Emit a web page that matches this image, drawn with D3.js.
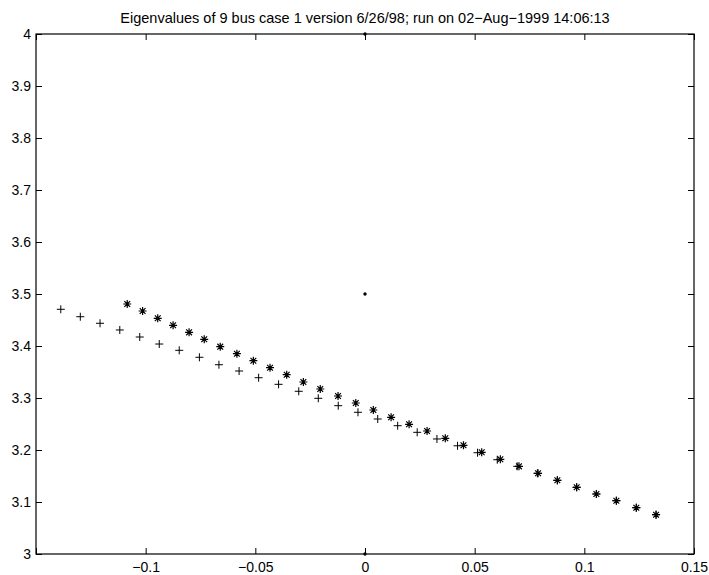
<!DOCTYPE html>
<html>
<head>
<meta charset="utf-8">
<script src="https://cdn.jsdelivr.net/npm/d3@7"></script>
<style>
  body { margin: 0; background: #fff; }
  text { font-family: "Liberation Sans", Arial, Helvetica, sans-serif; }
</style>
</head>
<body>
<div id="container"></div>
<script>
/* CONSTANTS AND GLOBALS */
const width = 709,
  height = 575,
  margin = { top: 34, bottom: 21, left: 36, right: 15 };

const titleText = "Eigenvalues of 9 bus case 1 version 6/26/98; run on 02\u2212Aug\u22121999 14:06:13";

// "+" series (eigenvalue real part, imag part)
const plusX = [-0.1387, -0.1298, -0.1208, -0.1118, -0.1027, -0.0938, -0.0847, -0.0755, -0.0666, -0.0574,
  -0.0485, -0.0394, -0.0302, -0.0213, -0.0122, -0.0032, 0.0058, 0.0149, 0.0238, 0.0328,
  0.0422, 0.0513, 0.0603, 0.0694, 0.0786, 0.0877, 0.0965, 0.1055, 0.1146, 0.1237, 0.1327];
const plusY = [3.4706, 3.4563, 3.4437, 3.4308, 3.4173, 3.4038, 3.3917, 3.3783, 3.3640, 3.3519,
  3.3390, 3.3263, 3.3129, 3.2994, 3.2852, 3.2725, 3.2596, 3.2467, 3.2340, 3.2212,
  3.2081, 3.1948, 3.1813, 3.1686, 3.1552, 3.1417, 3.1283, 3.1154, 3.1025, 3.0890, 3.0756];

// "*" series
const starX = [-0.1084, -0.1014, -0.0945, -0.0875, -0.0802, -0.0733, -0.0660, -0.0584, -0.0509, -0.0433,
  -0.0357, -0.0281, -0.0204, -0.0123, -0.0042, 0.0038, 0.0119, 0.0201, 0.0283, 0.0366,
  0.0449, 0.0532, 0.0617, 0.0702, 0.0789, 0.0877, 0.0965, 0.1055, 0.1146, 0.1237, 0.1327];
const starY = [3.4808, 3.4673, 3.4533, 3.4398, 3.4263, 3.4129, 3.3987, 3.3852, 3.3717, 3.3583,
  3.3448, 3.3308, 3.3173, 3.3038, 3.2904, 3.2769, 3.2629, 3.2494, 3.2365, 3.2225,
  3.2090, 3.1956, 3.1821, 3.1686, 3.1552, 3.1417, 3.1283, 3.1154, 3.1025, 3.0890, 3.0756];

// "." points
const dotX = [0, 0, 0];
const dotY = [4, 3.5, 3];

const xTicks = [-0.15, -0.1, -0.05, 0, 0.05, 0.1, 0.15];
const xTickLabels = ["", "\u22120.1", "\u22120.05", "0", "0.05", "0.1", "0.15"];
const yTicks = [3, 3.1, 3.2, 3.3, 3.4, 3.5, 3.6, 3.7, 3.8, 3.9, 4];
const yTickLabels = ["3", "3.1", "3.2", "3.3", "3.4", "3.5", "3.6", "3.7", "3.8", "3.9", "4"];

const plusData = plusX.map((x, i) => ({ x, y: plusY[i] }));
const starData = starX.map((x, i) => ({ x, y: starY[i] }));
const dotData = dotX.map((x, i) => ({ x, y: dotY[i] }));

const svg = d3.select("#container").append("svg")
  .attr("width", width)
  .attr("height", height);

// SCALES
const xScale = d3.scaleLinear()
  .domain([-0.15, 0.15])
  .range([margin.left, width - margin.right]);

const yScale = d3.scaleLinear()
  .domain([3, 4])
  .range([height - margin.bottom, margin.top]);

const tickLen = 6;
const fontSize = 14;

// AXES (ticks pointing inward, on all four sides)
const xAxisBottom = d3.axisBottom(xScale)
  .tickValues(xTicks)
  .tickSize(-tickLen)
  .tickPadding(8)
  .tickFormat((d, i) => xTickLabels[i]);

const xAxisTop = d3.axisTop(xScale)
  .tickValues(xTicks)
  .tickSize(-tickLen)
  .tickFormat("");

const yAxisLeft = d3.axisLeft(yScale)
  .tickValues(yTicks)
  .tickSize(-tickLen)
  .tickPadding(5)
  .tickFormat((d, i) => yTickLabels[i]);

const yAxisRight = d3.axisRight(yScale)
  .tickValues(yTicks)
  .tickSize(-tickLen)
  .tickFormat("");

function styleAxis(g) {
  g.select(".domain").remove();
  g.selectAll(".tick line").attr("stroke", "#000").attr("stroke-width", 1);
  g.selectAll(".tick text").attr("fill", "#000").attr("font-size", fontSize);
}

svg.append("g")
  .attr("transform", `translate(0,${height - margin.bottom})`)
  .call(xAxisBottom)
  .call(styleAxis);

svg.append("g")
  .attr("transform", `translate(0,${margin.top})`)
  .call(xAxisTop)
  .call(styleAxis);

svg.append("g")
  .attr("transform", `translate(${margin.left},0)`)
  .call(yAxisLeft)
  .call(styleAxis);

svg.append("g")
  .attr("transform", `translate(${width - margin.right},0)`)
  .call(yAxisRight)
  .call(styleAxis);

// BOX
svg.append("rect")
  .attr("x", xScale(-0.15))
  .attr("y", yScale(4))
  .attr("width", xScale(0.15) - xScale(-0.15))
  .attr("height", yScale(3) - yScale(4))
  .attr("fill", "none")
  .attr("stroke", "#000")
  .attr("stroke-width", 1.2);

// TITLE
svg.append("text")
  .attr("x", (xScale(-0.15) + xScale(0.15)) / 2)
  .attr("y", 23)
  .attr("text-anchor", "middle")
  .attr("font-size", 14.5)
  .attr("fill", "#000")
  .text(titleText);

// MARKERS
const m = 4;
const plusPath = `M${-m},0H${m}M0,${-m}V${m}`;
const starPath = `M${-m},0H${m}M0,${-m}V${m}M${-m * 0.72},${-m * 0.72}L${m * 0.72},${m * 0.72}M${-m * 0.72},${m * 0.72}L${m * 0.72},${-m * 0.72}`;

svg.selectAll("path.plus")
  .data(plusData)
  .join("path")
  .attr("class", "plus")
  .attr("d", plusPath)
  .attr("fill", "none")
  .attr("stroke", "#000")
  .attr("stroke-width", 1)
  .attr("transform", d => `translate(${xScale(d.x)},${yScale(d.y)})`);

svg.selectAll("path.star")
  .data(starData)
  .join("path")
  .attr("class", "star")
  .attr("d", starPath)
  .attr("fill", "none")
  .attr("stroke", "#000")
  .attr("stroke-width", 1.2)
  .attr("transform", d => `translate(${xScale(d.x)},${yScale(d.y)})`);

svg.selectAll("circle.dot")
  .data(dotData)
  .join("circle")
  .attr("class", "dot")
  .attr("r", 1.7)
  .attr("fill", "#000")
  .attr("cx", d => xScale(d.x))
  .attr("cy", d => yScale(d.y));
</script>
</body>
</html>
